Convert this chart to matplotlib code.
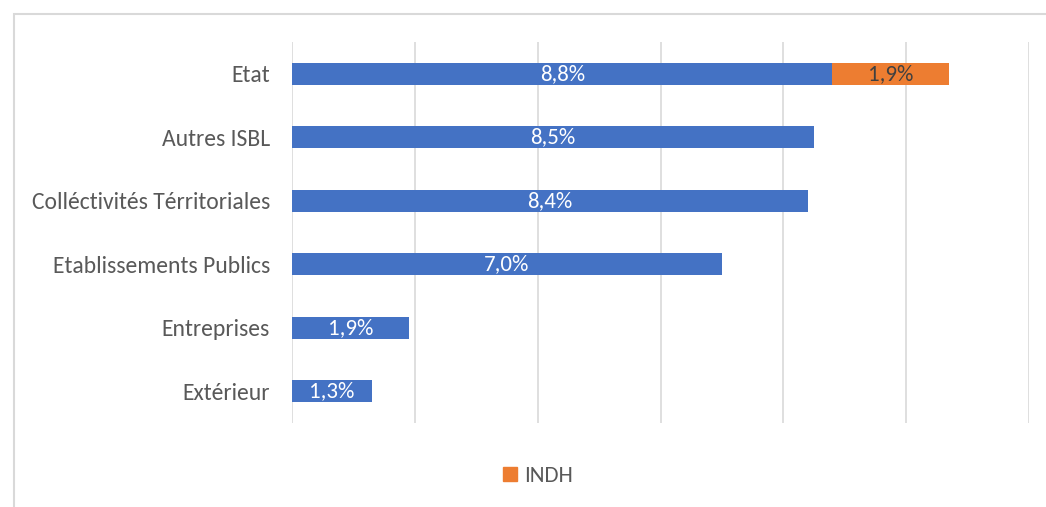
import matplotlib
matplotlib.use("Agg")
import matplotlib.pyplot as plt
from matplotlib.patches import Rectangle, Patch

categories = ["Etat", "Autres ISBL", "Colléctivités Térritoriales",
              "Etablissements Publics", "Entreprises", "Extérieur"]
base_values = [8.8, 8.5, 8.4, 7.0, 1.9, 1.3]
indh_values = [1.9, 0, 0, 0, 0, 0]
xticks = [0, 2, 4, 6, 8, 10, 12]

plt.rcParams['font.family'] = ['Carlito', 'DejaVu Sans']

W, H = 1046, 507
fig = plt.figure(figsize=(W / 100, H / 100), dpi=100)
ax = fig.add_axes([292 / W, 1 - 423 / H, (1029 - 292) / W, (423 - 42) / H])

blue = "#4472c4"
orange = "#ed7d31"
y = list(range(len(categories)))
bh = 0.35

ax.barh(y, base_values, height=bh, color=blue, zorder=3)
ax.barh(y, indh_values, left=base_values, height=bh, color=orange, zorder=3)

for yi, v in zip(y, base_values):
    ax.text(v / 2, yi, f"{v:.1f}%".replace(".", ","), ha="center", va="center",
            color="white", fontsize=16.5, zorder=4)
for yi, b, v in zip(y, base_values, indh_values):
    if v > 0:
        ax.text(b + v / 2, yi, f"{v:.1f}%".replace(".", ","), ha="center",
                va="center", color="#404040", fontsize=16.5, zorder=4)

ax.set_xlim(0, 12)
ax.set_ylim(len(categories) - 0.5, -0.5)
ax.set_xticks(xticks)
ax.set_xticklabels([])
ax.tick_params(axis="x", length=0)
ax.tick_params(axis="y", length=0, pad=16, labelsize=17, labelcolor="#595959")
ax.set_yticks(y)
ax.set_yticklabels(categories)
ax.grid(axis="x", color="#d9d9d9", linewidth=1.2, zorder=0)
for s in ax.spines.values():
    s.set_visible(False)

# outer chart border
fig.patches.append(Rectangle((14 / W, -0.05), 1.2, 1 - 14 / H + 0.05,
                             transform=fig.transFigure, fill=False,
                             edgecolor="#d9d9d9", linewidth=1.5))

fig.legend(handles=[Patch(color=orange, label="INDH")], loc="center",
           bbox_to_anchor=(538 / W, 1 - 476 / H), frameon=False,
           fontsize=16.5, labelcolor="#595959", handlelength=0.6,
           handleheight=0.6, handletextpad=0.3)

fig.savefig("out.png", dpi=100)
